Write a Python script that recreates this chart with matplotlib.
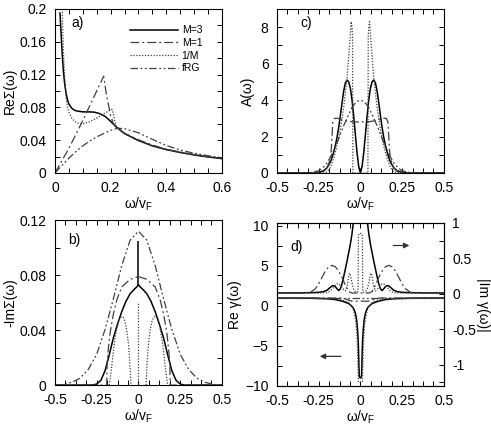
import numpy as np
import matplotlib.pyplot as plt
from matplotlib.ticker import MultipleLocator, FuncFormatter

plt.rcParams['font.family'] = ['Liberation Sans', 'DejaVu Sans']
plt.rcParams['mathtext.default'] = 'regular'
plt.rcParams['font.size'] = 10

# ---------------- panel a) Re Sigma(w), w >= 0 ----------------
a_w_m3 = [0.018, 0.022, 0.026, 0.03, 0.035, 0.04, 0.045, 0.05, 0.06, 0.07, 0.08, 0.1, 0.12,
          0.14, 0.16, 0.18, 0.2, 0.22, 0.25, 0.3, 0.35, 0.4, 0.45, 0.5, 0.55, 0.6]
a_m3 = [0.195, 0.17, 0.145, 0.125, 0.108, 0.097, 0.089, 0.084, 0.079, 0.0765, 0.0755, 0.0745, 0.0745,
        0.0742, 0.0725, 0.069, 0.063, 0.056, 0.048, 0.0395, 0.033, 0.0285, 0.025, 0.022, 0.0195, 0.0175]
a_w_m1 = [0, 0.05, 0.1, 0.15, 0.175, 0.185, 0.2, 0.21, 0.22, 0.25, 0.3, 0.35, 0.4, 0.45, 0.5, 0.55, 0.6]
a_m1 = [0, 0.03, 0.064, 0.1, 0.118, 0.095, 0.07, 0.06, 0.057, 0.0485, 0.0405, 0.034, 0.029, 0.0255,
        0.0225, 0.02, 0.018]
a_w_inv = [0.026, 0.03, 0.035, 0.04, 0.045, 0.05, 0.06, 0.07, 0.08, 0.09, 0.1, 0.12, 0.14, 0.16, 0.18,
           0.2, 0.205, 0.21, 0.215, 0.22, 0.25, 0.3, 0.35, 0.4, 0.45, 0.5, 0.55, 0.6]
a_inv = [0.2, 0.15, 0.115, 0.092, 0.08, 0.074, 0.067, 0.063, 0.061, 0.06, 0.06, 0.062, 0.065, 0.069,
         0.073, 0.077, 0.0775, 0.072, 0.063, 0.057, 0.048, 0.0395, 0.033, 0.0285, 0.025, 0.022, 0.0195, 0.0175]
a_w_frg = [0, 0.025, 0.05, 0.075, 0.1, 0.125, 0.15, 0.175, 0.2, 0.225, 0.25, 0.3, 0.35, 0.4, 0.45,
           0.5, 0.55, 0.6]
a_frg = [0, 0.009, 0.018, 0.026, 0.033, 0.039, 0.044, 0.048, 0.052, 0.0545, 0.054, 0.049, 0.041,
         0.0335, 0.028, 0.024, 0.021, 0.0185]

# ---------------- panel b) -Im Sigma(w), symmetric, w >= 0 half ----------------
b_w_m3 = [0, 0.01, 0.025, 0.05, 0.075, 0.1, 0.125, 0.15, 0.175, 0.2, 0.225, 0.25, 0.275, 0.5]
b_m3 = [0.073, 0.0715, 0.0698, 0.0665, 0.061, 0.0535, 0.0445, 0.0345, 0.022, 0.0105, 0.0035, 0.0008, 0, 0]
b_m3_spike = 0.105
b_w_m1 = [0, 0.05, 0.1, 0.13, 0.15, 0.17, 0.18, 0.188, 0.19, 0.5]
b_m1 = [0.079, 0.077, 0.0715, 0.062, 0.052, 0.038, 0.027, 0.015, 0, 0]
b_w_inv = [0.045, 0.05, 0.055, 0.06, 0.07, 0.08, 0.09, 0.1, 0.11, 0.12, 0.13, 0.14, 0.15, 0.16, 0.17, 0.175]
b_inv = [0, 0.012, 0.022, 0.03, 0.04, 0.046, 0.049, 0.05, 0.049, 0.046, 0.041, 0.034, 0.025, 0.014, 0.004, 0]
b_inv_spike = 0.06
b_w_frg = [0, 0.05, 0.1, 0.15, 0.2, 0.25, 0.3, 0.35, 0.4, 0.45, 0.5]
b_frg = [0.112, 0.1055, 0.087, 0.063, 0.0405, 0.0225, 0.0115, 0.005, 0.002, 0.0005, 0]

# ---------------- panel c) A(w), symmetric, w >= 0 half ----------------
c_w_m3 = [0, 0.01, 0.02, 0.03, 0.04, 0.05, 0.06, 0.07, 0.08, 0.09, 0.1, 0.11, 0.12, 0.13, 0.14, 0.15,
          0.16, 0.17, 0.18, 0.2, 0.22, 0.25, 0.3, 0.5]
c_m3 = [0, 0.35, 1.1, 2.1, 3.1, 4.0, 4.65, 5.0, 5.1, 4.95, 4.5, 3.85, 3.15, 2.5, 1.95, 1.5, 1.15, 0.85,
        0.6, 0.28, 0.12, 0.03, 0, 0]
c_w_m1 = [0, 0.04, 0.08, 0.1, 0.12, 0.14, 0.155, 0.165, 0.17, 0.175, 0.18, 0.19, 0.2, 0.22, 0.25, 0.5]
c_m1 = [2.8, 2.8, 2.85, 2.9, 2.95, 3.0, 3.0, 2.8, 2.0, 1.2, 0.8, 0.5, 0.3, 0.1, 0.02, 0]
c_w_inv = [0, 0.045, 0.047, 0.05, 0.055, 0.065, 0.075, 0.085, 0.1, 0.12, 0.14, 0.16, 0.18, 0.2, 0.25, 0.5]
c_inv = [0, 0, 7.5, 8.0, 8.3, 7.0, 5.8, 4.8, 3.6, 2.4, 1.5, 0.8, 0.3, 0.05, 0, 0]
c_w_frg = [0, 0.025, 0.05, 0.075, 0.1, 0.125, 0.15, 0.175, 0.2, 0.225, 0.25, 0.3, 0.35, 0.5]
c_frg = [4.0, 3.9, 3.6, 3.1, 2.6, 2.0, 1.45, 0.95, 0.55, 0.28, 0.12, 0.02, 0, 0]

# ---------------- panel d) Re gamma (left) and |Im gamma| (right), w >= 0 half ----------------
d_w_re_m3 = [0, 0.005, 0.007, 0.01, 0.013, 0.017, 0.022, 0.03, 0.04, 0.05, 0.07, 0.1, 0.15, 0.2, 0.3, 0.5]
d_re_m3 = [-9.0, -8.9, -8.7, -6.5, -4.3, -3.0, -1.8, -0.9, -0.35, -0.05, 0.3, 0.55, 0.8, 0.9, 0.97, 1.0]
d_w_re_inv = [0.012, 0.014, 0.017, 0.02, 0.025, 0.03, 0.04, 0.05, 0.07, 0.1, 0.15, 0.2, 0.3, 0.5]
d_re_inv = [-9.5, -8, -5.5, -4, -2.5, -1.6, -0.6, -0.1, 0.4, 0.7, 0.9, 0.95, 1, 1]
d_w_re_m1 = [0, 0.05, 0.07, 0.09, 0.12, 0.2, 0.5]
d_re_m1 = [0.6, 0.6, 0.7, 0.9, 1.0, 1.0, 1.0]
d_w_re_frg = [0, 0.5]
d_re_frg = [1.0, 1.0]

d_w_im_m3 = [0.035, 0.04, 0.05, 0.06, 0.07, 0.08, 0.09, 0.1, 0.11, 0.12, 0.13, 0.14, 0.15, 0.16, 0.17,
             0.18, 0.2, 0.22, 0.25, 0.3, 0.4, 0.5]
d_im_m3 = [1.3, 1.05, 0.85, 0.7, 0.58, 0.46, 0.35, 0.24, 0.14, 0.07, 0.045, 0.07, 0.1, 0.115, 0.11,
           0.09, 0.05, 0.03, 0.02, 0.015, 0.012, 0.012]
d_w_im_inv = [0, 0.008, 0.012, 0.014, 0.02, 0.03, 0.04, 0.05, 0.06, 0.065, 0.07, 0.08, 0.09, 0.1, 0.11,
              0.12, 0.13, 0.14, 0.15, 0.16, 0.18, 0.2, 0.25, 0.3, 0.5]
d_im_inv = [0.85, 0.85, 0.8, 0.03, 0.02, 0.03, 0.06, 0.15, 0.27, 0.29, 0.25, 0.1, 0.04, 0.06, 0.09,
            0.12, 0.14, 0.14, 0.12, 0.09, 0.04, 0.015, 0.01, 0.01, 0.01]
d_w_im_m1 = [0, 0.05, 0.07, 0.09, 0.11, 0.13, 0.15, 0.17, 0.19, 0.21, 0.23, 0.25, 0.27, 0.3, 0.35, 0.5]
d_im_m1 = [0.01, 0.01, 0.03, 0.12, 0.23, 0.32, 0.38, 0.4, 0.38, 0.32, 0.23, 0.14, 0.07, 0.02, 0.01, 0.01]

labels = ['M=3', 'M=1', '1/M', 'fRG']
styles = {
    'm3': dict(color='black', lw=1.1, ls='-'),
    'm1': dict(color='0.25', lw=0.9, ls=(0, (7, 2.5, 1.5, 2.5))),
    'inv': dict(color='0.25', lw=0.9, ls=(0, (1, 1.3))),
    'frg': dict(color='0.25', lw=0.9, ls=(0, (6, 2, 1.5, 2, 1.5, 2))),
}


def mirror(w, v):
    # two branches, broken at w = 0
    w = np.asarray(w, float)
    v = np.asarray(v, float)
    return np.r_[-w[::-1], np.nan, w], np.r_[v[::-1], np.nan, v]


def mirror_join(w, v):
    # continuous through w = 0
    w = np.asarray(w, float)
    v = np.asarray(v, float)
    return np.r_[-w[::-1], w], np.r_[v[::-1], v]


def style_axis(ax, top=True, right=True):
    ax.tick_params(direction='in', which='both', length=3.5, width=0.7, top=top, right=right,
                   labelsize=10)
    ax.tick_params(axis='x', pad=6)
    ax.tick_params(axis='y', pad=6)
    for s in ax.spines.values():
        s.set_linewidth(0.8)


fmt = FuncFormatter(lambda x, p: '%g' % round(x, 4))
xlab = 'ω/v$_F$'

fig = plt.figure(figsize=(4.91, 4.26), dpi=100)
ax_a = fig.add_axes([0.112, 0.594, 0.340, 0.385])
ax_c = fig.add_axes([0.564, 0.594, 0.340, 0.385])
ax_b = fig.add_axes([0.112, 0.096, 0.340, 0.387])
ax_d = fig.add_axes([0.564, 0.094, 0.340, 0.383])

# a)
ax = ax_a
ax.plot(a_w_m3, a_m3, label=labels[0], **styles['m3'])
ax.plot(a_w_m1, a_m1, label=labels[1], **styles['m1'])
ax.plot(a_w_inv, a_inv, label=labels[2], **styles['inv'])
ax.plot(a_w_frg, a_frg, label=labels[3], **styles['frg'])
ax.set_xlim(0, 0.6)
ax.set_ylim(0, 0.2)
ax.xaxis.set_major_locator(MultipleLocator(0.2))
ax.xaxis.set_minor_locator(MultipleLocator(0.05))
ax.yaxis.set_major_locator(MultipleLocator(0.04))
ax.yaxis.set_minor_locator(MultipleLocator(0.02))
ax.xaxis.set_major_formatter(fmt)
ax.yaxis.set_major_formatter(fmt)
ax.set_xlabel(xlab, labelpad=0)
ax.set_ylabel('ReΣ(ω)', labelpad=2)
ax.text(0.1, 0.915, 'a)', transform=ax.transAxes, va='center', fontsize=10)
ax.legend(loc='upper left', bbox_to_anchor=(0.45, 0.90), frameon=False, fontsize=7.5,
          handlelength=4.6, handletextpad=0.35, labelspacing=0.25, borderpad=0, borderaxespad=0)
style_axis(ax)

# b)
ax = ax_b
x, y = mirror_join(b_w_m3, b_m3)
ax.plot(x, y, **styles['m3'])
ax.vlines(0, b_m3[0], b_m3_spike, color='black', lw=1.1)
x, y = mirror(b_w_m1, b_m1)
ax.plot(x, y, **styles['m1'])
x, y = mirror(b_w_inv, b_inv)
ax.plot(x, y, **styles['inv'])
ax.vlines(0, 0, b_inv_spike, color='0.25', lw=0.9, ls=(0, (1, 1.3)))
x, y = mirror_join(b_w_frg, b_frg)
ax.plot(x, y, **styles['frg'])
ax.set_xlim(-0.5, 0.5)
ax.set_ylim(0, 0.12)
ax.xaxis.set_major_locator(MultipleLocator(0.25))
ax.xaxis.set_minor_locator(MultipleLocator(0.0625))
ax.yaxis.set_major_locator(MultipleLocator(0.04))
ax.yaxis.set_minor_locator(MultipleLocator(0.02))
ax.xaxis.set_major_formatter(fmt)
ax.yaxis.set_major_formatter(fmt)
ax.set_xlabel(xlab, labelpad=0)
ax.set_ylabel('-ImΣ(ω)', labelpad=2)
ax.text(0.08, 0.88, 'b)', transform=ax.transAxes, va='center', fontsize=10)
style_axis(ax)

# c)
ax = ax_c
x, y = mirror_join(c_w_m3, c_m3)
ax.plot(x, y, **styles['m3'])
x, y = mirror_join(c_w_m1, c_m1)
ax.plot(x, y, **styles['m1'])
x, y = mirror_join(c_w_inv, c_inv)
ax.plot(x, y, **styles['inv'])
x, y = mirror_join(c_w_frg, c_frg)
ax.plot(x, y, **styles['frg'])
ax.set_xlim(-0.5, 0.5)
ax.set_ylim(0, 9)
ax.xaxis.set_major_locator(MultipleLocator(0.25))
ax.xaxis.set_minor_locator(MultipleLocator(0.0625))
ax.yaxis.set_major_locator(MultipleLocator(2))
ax.yaxis.set_minor_locator(MultipleLocator(1))
ax.xaxis.set_major_formatter(fmt)
ax.set_xlabel(xlab, labelpad=0)
ax.set_ylabel('A(ω)', labelpad=4)
ax.text(0.14, 0.915, 'c)', transform=ax.transAxes, va='center', fontsize=10)
style_axis(ax)

# d)
ax = ax_d
ax2 = ax.twinx()
x, y = mirror_join(d_w_re_m3, d_re_m3)
ax.plot(x, y, **styles['m3'])
x, y = mirror(d_w_re_inv, d_re_inv)
ax.plot(x, y, **styles['inv'])
x, y = mirror_join(d_w_re_m1, d_re_m1)
ax.plot(x, y, **styles['m1'])
x, y = mirror_join(d_w_re_frg, d_re_frg)
ax.plot(x, y, **styles['frg'])
x, y = mirror(d_w_im_m3, d_im_m3)
ax2.plot(x, y, **styles['m3'])
x, y = mirror_join(d_w_im_inv, d_im_inv)
ax2.plot(x, y, **styles['inv'])
x, y = mirror_join(d_w_im_m1, d_im_m1)
ax2.plot(x, y, **styles['m1'])
ax.set_xlim(-0.5, 0.5)
ax.set_ylim(-10, 10.4)
ax2.set_ylim(-1.3, 1.0)
ax.xaxis.set_major_locator(MultipleLocator(0.25))
ax.xaxis.set_minor_locator(MultipleLocator(0.0625))
ax.yaxis.set_major_locator(MultipleLocator(5))
ax.yaxis.set_minor_locator(MultipleLocator(2.5))
ax2.yaxis.set_major_locator(MultipleLocator(0.5))
ax2.yaxis.set_minor_locator(MultipleLocator(0.25))
ax.xaxis.set_major_formatter(fmt)
ax2.yaxis.set_major_formatter(fmt)
ax.set_xlabel(xlab, labelpad=0)
ax.set_ylabel('Re γ(ω)', labelpad=2)
ax2.set_ylabel('|Im γ(ω)|', rotation=270, labelpad=10)
ax.text(0.08, 0.85, 'd)', transform=ax.transAxes, va='center', fontsize=10)
style_axis(ax, right=False)
ax2.tick_params(direction='in', which='both', length=3.5, width=0.7, labelsize=10, pad=6)
ax2.annotate('', xy=(0.31, 0.68), xytext=(0.18, 0.68), xycoords='data',
             arrowprops=dict(arrowstyle='-|>', color='0.2', lw=0.9, mutation_scale=8))
ax.annotate('', xy=(-0.26, -6.3), xytext=(-0.1, -6.3), xycoords='data',
            arrowprops=dict(arrowstyle='-|>', color='0.2', lw=0.9, mutation_scale=8))

fig.savefig('out.png', dpi=100)
